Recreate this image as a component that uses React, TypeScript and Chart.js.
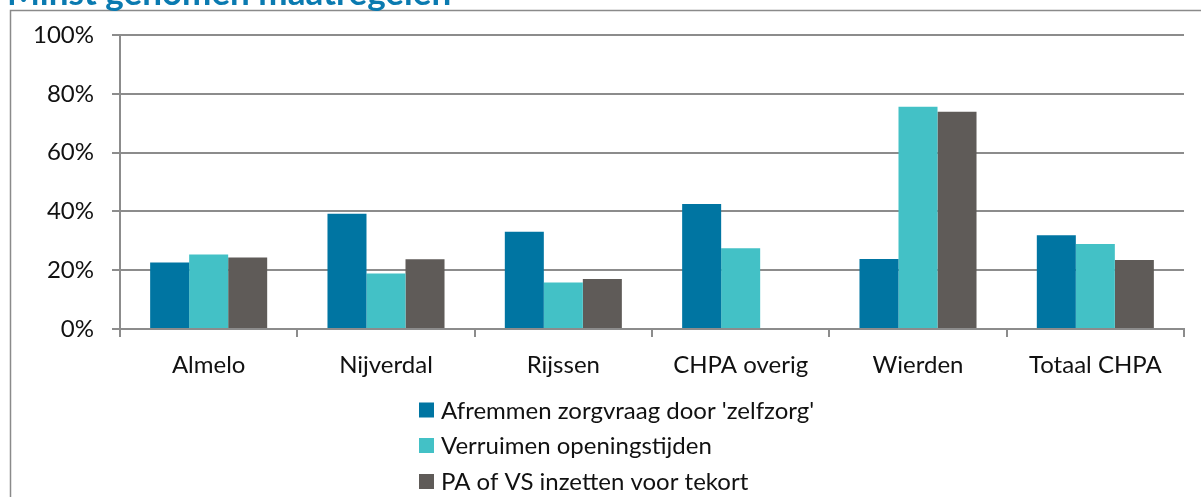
import React, { useEffect, useRef } from "react";
import { Chart, registerables } from "chart.js";

Chart.register(...registerables);

const title = "Minst genomen maatregelen";
const categories = ["Almelo", "Nijverdal", "Rijssen", "CHPA overig", "Wierden", "Totaal CHPA"];
const seriesNames = [
  "Afremmen zorgvraag door 'zelfzorg'",
  "Verruimen openingstijden",
  "PA of VS inzetten voor tekort",
];
const afremmen = [22.6, 39.2, 33.1, 42.5, 23.8, 31.9];
const verruimen = [25.3, 18.9, 15.8, 27.5, 75.6, 28.9];
const paVs: (number | null)[] = [24.3, 23.7, 17.0, null, 73.9, 23.5];
const seriesColors = ["#0075A2", "#43C1C6", "#5F5B58"];
const yMin = 0;
const yMax = 100;
const yStep = 20;

const FONT = "Lato, 'Open Sans', sans-serif";
const GRID = "#8c8c8c";
const TEXT = "#111111";

const framePlugin = {
  id: "frame",
  beforeDraw(chart: any) {
    const ctx = chart.ctx;
    ctx.save();
    // frame border (left and top)
    ctx.strokeStyle = "#8a8a8a";
    ctx.lineWidth = 1.5;
    ctx.beginPath();
    ctx.moveTo(10.5, chart.height + 5);
    ctx.lineTo(10.5, 10.5);
    ctx.lineTo(chart.width + 5, 10.5);
    ctx.stroke();
    // title (cut off at top)
    ctx.fillStyle = "#0A7AB0";
    ctx.font = `bold 35px ${FONT}`;
    ctx.textBaseline = "alphabetic";
    ctx.textAlign = "left";
    ctx.fillText(title, 7, 5);
    ctx.restore();
  },
  afterDraw(chart: any) {
    const ctx = chart.ctx;
    ctx.save();
    const x0 = 419;
    const rows = [410, 445.5, 481.5];
    ctx.font = `24px ${FONT}`;
    ctx.textBaseline = "middle";
    ctx.textAlign = "left";
    chart.data.datasets.forEach((ds: any, i: number) => {
      const cy = rows[i];
      ctx.fillStyle = ds.backgroundColor;
      ctx.fillRect(x0, cy - 7.5, 15, 15);
      ctx.fillStyle = TEXT;
      ctx.fillText(ds.label, x0 + 22, cy + 1);
    });
    ctx.restore();
  },
};

export default function App() {
  const ref = useRef<HTMLCanvasElement | null>(null);

  useEffect(() => {
    document.body.style.margin = "0";
    const canvas = ref.current;
    if (!canvas) return;
    const chart = new Chart(canvas, {
      type: "bar",
      data: {
        labels: categories,
        datasets: [
          { label: seriesNames[0], data: afremmen, backgroundColor: seriesColors[0] },
          { label: seriesNames[1], data: verruimen, backgroundColor: seriesColors[1] },
          { label: seriesNames[2], data: paVs, backgroundColor: seriesColors[2] },
        ],
      },
      options: {
        animation: false,
        responsive: false,
        devicePixelRatio: 1,
        layout: { padding: { top: 35, left: 0, right: 17, bottom: 108 } },
        datasets: {
          bar: { categoryPercentage: 0.66, barPercentage: 1.0, borderWidth: 0 },
        },
        plugins: {
          legend: { display: false },
          tooltip: { enabled: false },
          title: { display: false },
        },
        scales: {
          x: {
            afterFit: (s: any) => {
              s.height = 60;
            },
            grid: {
              display: true,
              drawOnChartArea: false,
              drawTicks: true,
              tickLength: 8,
              color: GRID,
              lineWidth: 2,
              offset: true,
            },
            border: { display: true, color: GRID, width: 2 },
            ticks: {
              color: TEXT,
              font: { family: FONT, size: 24 },
              padding: 14,
              maxRotation: 0,
              autoSkip: false,
            },
          },
          y: {
            min: yMin,
            max: yMax,
            afterFit: (s: any) => {
              s.width = 120;
            },
            grid: {
              color: GRID,
              lineWidth: 2,
              drawTicks: true,
              tickLength: 8,
            },
            border: { display: true, color: GRID, width: 2 },
            ticks: {
              stepSize: yStep,
              color: TEXT,
              font: { family: FONT, size: 24 },
              padding: 18,
              callback: (v: any) => `${v}%`,
            },
          },
        },
      },
      plugins: [framePlugin],
    });
    return () => chart.destroy();
  }, []);

  return (
    <div style={{ width: 1201, height: 497, overflow: "hidden", background: "#fff" }}>
      <canvas ref={ref} width={1201} height={497} style={{ width: 1201, height: 497, display: "block" }} />
    </div>
  );
}
